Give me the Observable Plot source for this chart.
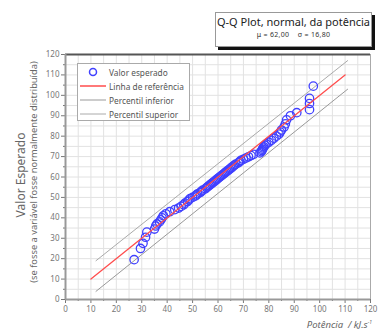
<!DOCTYPE html>
<html><head><meta charset="utf-8">
<script src="https://cdn.jsdelivr.net/npm/d3@7"></script>
<script src="https://cdn.jsdelivr.net/npm/@observablehq/plot@0.6"></script>
<style>
body{margin:0;background:#fff;font-family:"Noto Sans",sans-serif;}
#wrap{position:relative;width:378px;height:336px;overflow:hidden;}
.ov{position:absolute;white-space:nowrap;}
</style></head><body>
<div id="wrap"></div>
<script>
// Observed potência (x) and expected normal value (y)
const potencia = [27,29.5,30.5,31.5,32,35,35.5,36,37,37.5,38,38.5,39.5,41,43,44.5,45.5,46.5,47,48,48.5,49,50,51,51.5,52,53,53.5,54,55,55.5,56,56.5,57,57.5,58,58.5,59,59.5,60,60.5,61,61.5,62,62.5,63,63.5,64,64.5,65,65.5,66,66.5,67,68,68.5,69,70,71,72,73,74,76.5,77,77.3,77.5,77.8,78,78.5,79,80,81,82,83,84,84.5,85,86,86.5,87,88.5,91,96,96,96,97.5];
const esperado = [19.5,25,27.5,30.5,33,34.5,36,37,38,39,40,41,42,43,44,44.8,45.6,46.4,47.2,48,48.7,49.4,50,50.6,51.2,51.8,52.4,53,53.6,54.2,54.8,55.3,55.8,56.3,56.8,57.3,57.8,58.3,58.8,59.3,59.8,60.3,60.8,61.3,61.8,62.3,62.8,63.3,63.8,64.3,64.8,65.3,65.8,66.3,66.9,67.5,68.1,68.7,69.3,69.9,70.5,71.1,71.8,72.4,73,73.6,74.2,74.8,75.5,76.2,77,78,79,80,81,82,83,84.5,86,88,90,91.5,93,96,98.5,104.5];
const refX = [10,110], refY = [10,110];
const infX = [12,111], infY = [4,103];
const supX = [12,111], supY = [19,117];
const majorTicks = d3.range(0,121,10);
const minorTicks = d3.range(5,121,10);
const gridTicks = d3.range(0,121,5);
const legendLabels = ["Valor esperado","Linha de referência","Percentil inferior","Percentil superior"];
const titleText = "Q-Q Plot, normal, da potência";
const subText = "μ = 62,00    σ = 16,80";

const pts = potencia.map((p,i)=>({x:p,y:esperado[i]}));
const ln = (xs,ys)=>xs.map((x,i)=>({x,y:ys[i]}));

const chart = Plot.plot({
  width:378, height:336,
  marginLeft:65, marginRight:8, marginTop:54, marginBottom:37,
  style:{fontFamily:"Noto Sans, sans-serif", fontSize:"8px", color:"#555", background:"white"},
  x:{domain:[0,120]}, y:{domain:[0,120]},
  marks:[
    Plot.gridX(gridTicks,{stroke:"#e2e2e2", strokeOpacity:1}),
    Plot.gridY(gridTicks,{stroke:"#e2e2e2", strokeOpacity:1}),
    Plot.frame({stroke:"#aaa"}),
    Plot.ruleY([120],{stroke:"#555", strokeWidth:2}),
    Plot.axisX(majorTicks,{tickSize:4, tickPadding:3, stroke:"#777", fill:"#777", label:null}),
    Plot.axisX(minorTicks,{tickSize:2, text:null, stroke:"#777", label:null}),
    Plot.axisY(majorTicks,{tickSize:4, tickPadding:2, stroke:"#777", fill:"#777", label:null}),
    Plot.axisY(minorTicks,{tickSize:2, text:null, stroke:"#777", label:null}),
    Plot.ruleX([0],{stroke:"#999", strokeWidth:2}),
    Plot.ruleY([0],{stroke:"#999", strokeWidth:2}),
    Plot.line(ln(supX,supY),{x:"x",y:"y",stroke:"#aaa",strokeWidth:1}),
    Plot.line(ln(infX,infY),{x:"x",y:"y",stroke:"#999",strokeWidth:1}),
    Plot.dot(pts,{x:"x",y:"y",r:4.2,stroke:"#4040ff",strokeWidth:1.3,fill:"none"}),
    Plot.line(ln(refX,refY),{x:"x",y:"y",stroke:"#ff4d4d",strokeWidth:1.3})
  ]
});
const wrap = document.getElementById("wrap");
wrap.appendChild(chart);

function ov(html, css){const d=document.createElement("div");d.className="ov";d.innerHTML=html;Object.assign(d.style,css);wrap.appendChild(d);return d;}

// title box
ov(`<div style="font-size:11px;color:#222;text-align:center;line-height:14px;margin-top:2px">${titleText}</div><div style="font-size:7px;color:#333;text-align:center;line-height:12px;letter-spacing:0.3px">${subText.replace(/ {2,}/g,"&nbsp;&nbsp;&nbsp;&nbsp;")}</div>`,
  {left:"215px",top:"12px",width:"155px",height:"33px",background:"#fff",border:"1px solid #999",boxShadow:"3px 3px 0 #111"});

// legend
const sw = [
  `<svg width="26" height="10"><circle cx="13" cy="5" r="3.5" fill="none" stroke="#4040ff" stroke-width="1.5"/></svg>`,
  `<svg width="26" height="10"><line x1="0" x2="26" y1="5" y2="5" stroke="#ff4d4d" stroke-width="1.5"/></svg>`,
  `<svg width="26" height="10"><line x1="0" x2="26" y1="5" y2="5" stroke="#999" stroke-width="1"/></svg>`,
  `<svg width="26" height="10"><line x1="0" x2="26" y1="5" y2="5" stroke="#aaa" stroke-width="1"/></svg>`
];
ov(legendLabels.map((t,i)=>`<div style="display:flex;align-items:center;height:14px"><span style="display:inline-block;width:26px;height:10px;margin-right:3px">${sw[i]}</span><span>${t}</span></div>`).join(""),
  {left:"77px",top:"63px",width:"113px",height:"58px",padding:"1px 0 0 2px",background:"#fff",border:"1px solid #aaa",fontSize:"8.3px",color:"#555",boxSizing:"border-box"});

// axis titles
ov("Valor Esperado",{left:"20px",top:"175px",fontSize:"12px",color:"#666",transform:"translate(-50%,-50%) rotate(-90deg)"});
ov("(se fosse a variável fosse normalmente distribuída)",{left:"33px",top:"172px",fontSize:"9.3px",color:"#666",transform:"translate(-50%,-50%) rotate(-90deg)"});
ov("Potência &nbsp;/ kJ.s<sup style='font-size:5px'>-1</sup>",{right:"6px",top:"318px",fontSize:"9.5px",fontStyle:"italic",color:"#666"});
</script>
</body></html>
